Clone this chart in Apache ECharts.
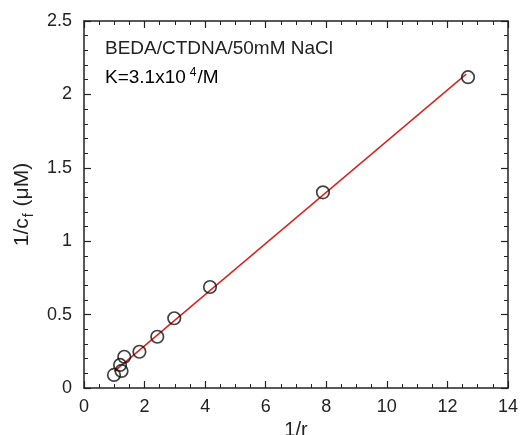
<!DOCTYPE html>
<html><head><meta charset="utf-8">
<script src="https://cdn.jsdelivr.net/npm/echarts@6/dist/echarts.min.js"></script>
<style>html,body{margin:0;padding:0;background:#fff}#c{width:522px;height:435px}</style>
</head><body><div id="c"></div>
<script>
// data
const pointsX = [0.99, 1.24, 1.19, 1.33, 1.83, 2.42, 2.98, 4.16, 7.89, 12.68];
const pointsY = [0.089, 0.116, 0.157, 0.213, 0.247, 0.349, 0.475, 0.688, 1.333, 2.117];
const fitX = [1.0, 12.62];
const fitY = [0.113, 2.138];
const xTicks = [0, 2, 4, 6, 8, 10, 12, 14];
const yTicks = [0, 0.5, 1, 1.5, 2, 2.5];
const label1 = 'BEDA/CTDNA/50mM NaCl';

const FONT = 'Liberation Sans, Arial, Helvetica, sans-serif';
const chart = echarts.init(document.getElementById('c'));
const axisCommon = {
  axisLine: {show: true, onZero: false, lineStyle: {color: '#222', width: 1.5}},
  axisTick: {show: true, inside: true, length: 7, lineStyle: {color: '#222', width: 1.2}},
  minorTick: {show: true, length: 4, lineStyle: {color: '#222', width: 1}},
  splitLine: {show: false}
};
chart.setOption({
  animation: false,
  grid: {left: 84, right: 14, top: 21, bottom: 47, containLabel: false, outerBoundsMode: 'none'},
  xAxis: [
    Object.assign({type: 'value', min: xTicks[0], max: xTicks[xTicks.length-1], interval: 2,
      name: '1/r', nameLocation: 'middle', nameGap: 28,
      nameTextStyle: {fontFamily: FONT, fontSize: 20, color: '#222'},
      axisLabel: {fontFamily: FONT, fontSize: 18, color: '#222', margin: 10}}, axisCommon,
      {minorTick: Object.assign({}, axisCommon.minorTick, {splitNumber: 4})}),
    Object.assign({type: 'value', position: 'top', min: xTicks[0], max: xTicks[xTicks.length-1], interval: 2,
      axisLabel: {show: false}}, axisCommon,
      {minorTick: Object.assign({}, axisCommon.minorTick, {splitNumber: 4})})
  ],
  yAxis: [
    Object.assign({type: 'value', min: yTicks[0], max: yTicks[yTicks.length-1], interval: 0.5,
      name: '{a|1/c}{s|f}{a| (μM)}', nameLocation: 'middle', nameGap: 48,
      nameTextStyle: {fontFamily: FONT, fontSize: 21, color: '#222',
        rich: {a: {fontFamily: FONT, fontSize: 21, color: '#222'},
               s: {fontFamily: FONT, fontSize: 14, color: '#222', verticalAlign: 'bottom', padding: [13,1,0,1]}}},
      axisLabel: {fontFamily: FONT, fontSize: 18, color: '#222', margin: 12}}, axisCommon,
      {minorTick: Object.assign({}, axisCommon.minorTick, {splitNumber: 5})}),
    Object.assign({type: 'value', position: 'right', min: yTicks[0], max: yTicks[yTicks.length-1], interval: 0.5,
      axisLabel: {show: false}}, axisCommon,
      {minorTick: Object.assign({}, axisCommon.minorTick, {splitNumber: 5})})
  ],
  series: [
    {type: 'line', data: fitX.map((x, i) => [x, fitY[i]]), symbol: 'none',
     lineStyle: {color: '#d8231f', width: 1.5}, z: 2},
    {type: 'scatter', data: pointsX.map((x, i) => [x, pointsY[i]]), symbol: 'circle', symbolSize: 12.5,
     itemStyle: {color: 'rgba(255,255,255,0)', borderColor: '#111', borderWidth: 1.7}, z: 3}
  ],
  graphic: [
    {type: 'text', left: 105, top: 39, style: {text: label1, font: '19px ' + FONT, fill: '#222'}},
    {type: 'text', left: 105, top: 67, style: {text: '{a|K=3.1x10}{s|4}{a|/M}',
      rich: {a: {fontFamily: FONT, fontSize: 19, color: '#222'},
             s: {fontFamily: FONT, fontSize: 12, color: '#222', verticalAlign: 'top', padding: [0,1,9,4]}}}}
  ]
});
</script></body></html>
